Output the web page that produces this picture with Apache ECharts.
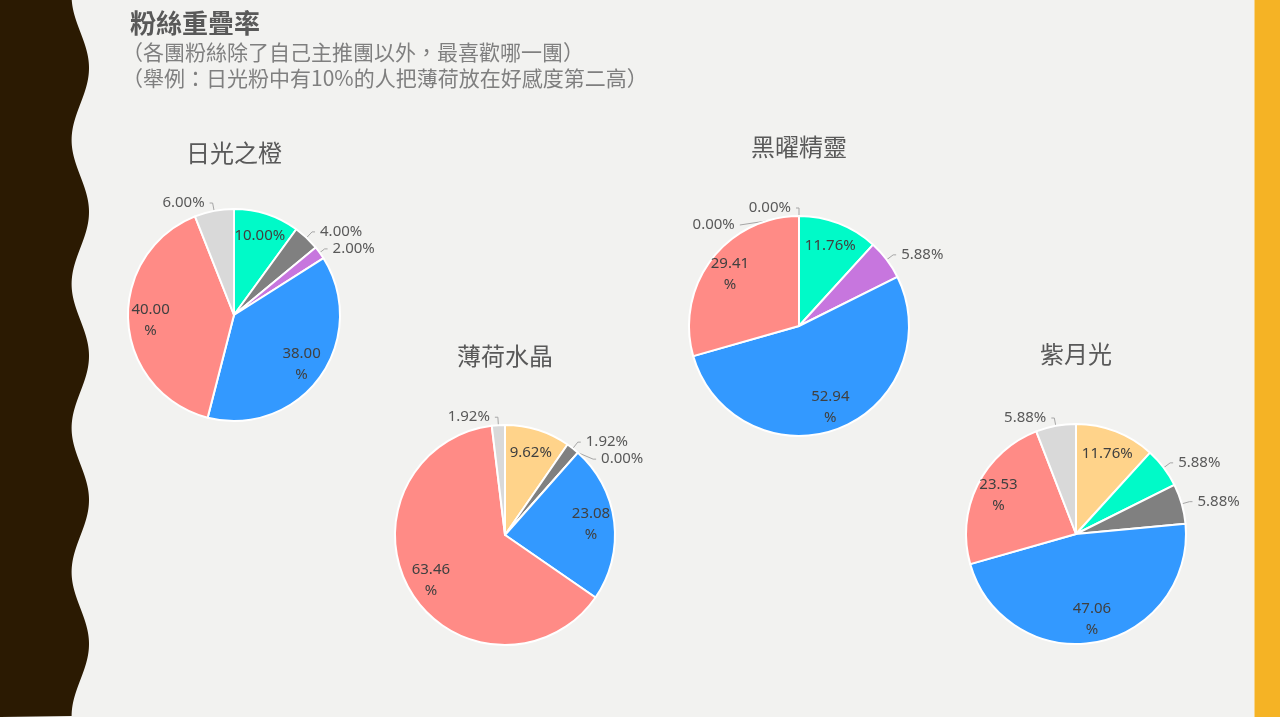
<!DOCTYPE html>
<html>
<head>
<meta charset="utf-8">
<script src="https://cdn.jsdelivr.net/npm/echarts@6/dist/echarts.min.js"></script>
<style>
html,body{margin:0;padding:0;background:#F2F2F0;}
#c{width:1280px;height:717px;}
</style>
</head>
<body>
<div id="c"></div>
<script>
// ---- data ----
const headerTitle = '粉絲重疊率';
const headerLine1 = '（各團粉絲除了自己主推團以外，最喜歡哪一團）';
const headerLine2 = '（舉例：日光粉中有10%的人把薄荷放在好感度第二高）';

const pieTitles = ['日光之橙', '薄荷水晶', '黑曜精靈', '紫月光'];

// slice keys (colour groups), clockwise from 12 o'clock
const sunNames      = ['薄荷水晶', '黑曜精靈', '紫月光', '藍', '紅', '灰'];
const sunValues     = [10.00, 4.00, 2.00, 38.00, 40.00, 6.00];

const mintNames     = ['日光之橙', '黑曜精靈', '紫月光', '藍', '紅', '灰'];
const mintValues    = [9.62, 1.92, 0.00, 23.08, 63.46, 1.92];

const obsidianNames = ['日光之橙', '薄荷水晶', '紫月光', '藍', '紅', '灰'];
const obsidianValues= [0.00, 11.76, 5.88, 52.94, 29.41, 0.00];

const moonNames     = ['日光之橙', '薄荷水晶', '黑曜精靈', '藍', '紅', '灰'];
const moonValues    = [11.76, 5.88, 5.88, 47.06, 23.53, 5.88];

// ---- styling ----
const colorMap = {
  '日光之橙': '#FFD38A',
  '薄荷水晶': '#00FAC8',
  '黑曜精靈': '#808080',
  '紫月光': '#C776DE',
  '藍': '#3399FF',
  '紅': '#FF8B86',
  '灰': '#D9D9D9'
};
const layout = [
  {cx: 234, cy: 315, r: 106},
  {cx: 505, cy: 535, r: 110},
  {cx: 799, cy: 326, r: 110},
  {cx: 1076, cy: 534, r: 110}
];
const titleY = [136, 339, 130, 337];
const pies = [
  [sunNames, sunValues],
  [mintNames, mintValues],
  [obsidianNames, obsidianValues],
  [moonNames, moonValues]
];
const INSIDE_MIN = 9;
const labelFont = "'Noto Sans', 'Open Sans', sans-serif";
const cjkFont = "'Noto Sans CJK TC', 'Noto Sans CJK SC', sans-serif";

const series = [];
pies.forEach(([names, values], i) => {
  const L = layout[i];
  // visible pie, outside labels for small slices
  series.push({
    type: 'pie',
    center: [L.cx, L.cy],
    radius: [0, L.r],
    startAngle: 90,
    clockwise: true,
    avoidLabelOverlap: true,
    animation: false,
    itemStyle: {borderColor: '#ffffff', borderWidth: 2},
    label: {
      position: 'outside',
      color: '#595959',
      fontSize: 15,
      fontFamily: labelFont,
      formatter: p => p.value.toFixed(2) + '%'
    },
    labelLine: {show: true, length: 8, length2: 3, lineStyle: {color: '#A6A6A6', width: 1}},
    data: names.map((n, k) => ({
      name: n,
      value: values[k],
      itemStyle: {color: colorMap[n]},
      label: {show: values[k] < INSIDE_MIN},
      labelLine: {show: values[k] < INSIDE_MIN}
    }))
  });
  // transparent ring carrying the inner labels
  series.push({
    type: 'pie',
    center: [L.cx, L.cy],
    radius: [L.r * 0.52, L.r],
    startAngle: 90,
    clockwise: true,
    silent: true,
    animation: false,
    itemStyle: {color: 'rgba(0,0,0,0)', borderWidth: 0},
    label: {
      position: 'inside',
      color: '#404040',
      fontSize: 15,
      lineHeight: 21,
      fontFamily: labelFont,
      formatter: p => p.value >= 20 ? p.value.toFixed(2) + '\n%' : p.value.toFixed(2) + '%'
    },
    labelLine: {show: false},
    data: names.map((n, k) => ({
      name: n,
      value: values[k],
      label: {show: values[k] >= INSIDE_MIN}
    }))
  });
});

// left wavy strip
const wavePts = [[0, 0]];
for (let y = 0; y <= 717; y += 2) {
  wavePts.push([80.3 + 8.7 * Math.cos(2 * Math.PI * (y - 68) / 144), y]);
}
wavePts.push([0, 717]);

const graphic = [
  {type: 'polygon', shape: {points: wavePts}, style: {fill: '#2B1A02'}, silent: true},
  {type: 'rect', shape: {x: 1254, y: 0, width: 1, height: 717}, style: {fill: '#F7D48A'}, silent: true},
  {type: 'rect', shape: {x: 1255, y: 0, width: 25, height: 717}, style: {fill: '#F5B325'}, silent: true},
  {type: 'text', left: 130, top: 10, style: {text: headerTitle, fill: '#595959', font: "bold 26px " + cjkFont}},
  {type: 'text', left: 122, top: 42, style: {text: headerLine1, fill: '#7F7F7F', font: "21px " + cjkFont}},
  {type: 'text', left: 122, top: 68, style: {text: headerLine2, fill: '#7F7F7F', font: "21px " + cjkFont}}
];

const titles = pieTitles.map((t, i) => ({
  text: t,
  left: layout[i].cx - 5,
  top: titleY[i],
  textAlign: 'center',
  textStyle: {color: '#595959', fontSize: 24, fontWeight: 'normal', fontFamily: cjkFont}
}));

const chart = echarts.init(document.getElementById('c'), null, {renderer: 'canvas'});
chart.setOption({
  backgroundColor: '#F2F2F0',
  animation: false,
  title: titles,
  graphic: graphic,
  series: series
});
</script>
</body>
</html>
